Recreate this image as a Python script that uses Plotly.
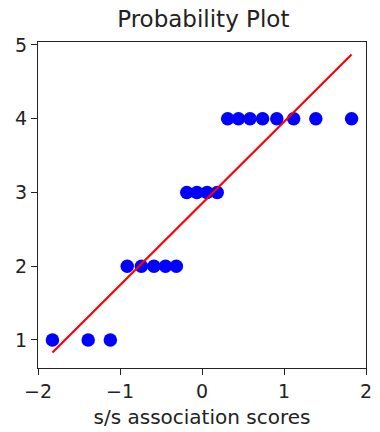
import plotly.graph_objects as go

# Theoretical quantiles (x) and ordered responses (y)
osm = [-1.824, -1.388, -1.118, -0.912, -0.739, -0.586, -0.445, -0.313, -0.186, -0.062,
       0.062, 0.186, 0.313, 0.445, 0.586, 0.739, 0.912, 1.118, 1.388, 1.824]
osr = [1, 1, 1, 2, 2, 2, 2, 2, 3, 3,
       3, 3, 4, 4, 4, 4, 4, 4, 4, 4]
fit_x = [-1.824, 1.824]
fit_y = [0.83, 4.87]

xticks = [-2, -1, 0, 1, 2]
yticks = [1, 2, 3, 4, 5]
xtick_text = ["\u22122", "\u22121", "0", "1", "2"]

font = "DejaVu Sans"

fig = go.Figure()
fig.add_trace(go.Scatter(x=osm, y=osr, mode="markers",
                         marker=dict(color="blue", size=13.5, line=dict(width=0)),
                         showlegend=False))
fig.add_trace(go.Scatter(x=fit_x, y=fit_y, mode="lines",
                         line=dict(color="red", width=2.2),
                         showlegend=False))

axis_common = dict(showline=True, linecolor="#222222", linewidth=1.4, mirror=True,
                   ticks="outside", ticklen=6, tickwidth=1.4, tickcolor="#222222",
                   showgrid=False, zeroline=False,
                   tickfont=dict(family=font, size=19, color="#222222"))

fig.update_layout(
    width=380, height=432,
    margin=dict(l=38, r=8, t=42, b=64),
    plot_bgcolor="white", paper_bgcolor="white",
    title=dict(text="Probability Plot", font=dict(family=font, size=23, color="#222222"),
               x=0.535, xanchor="center", yref="container", y=1 - 19/432, yanchor="middle"),
    xaxis=dict(range=[-2, 2], tickvals=xticks, ticktext=xtick_text,
               title=dict(text="s/s association scores", font=dict(family=font, size=20, color="#222222"),
                          standoff=8),
               **axis_common),
    yaxis=dict(range=[0.62, 5.04], tickvals=yticks, **axis_common),
)

fig.write_html("out.html")
